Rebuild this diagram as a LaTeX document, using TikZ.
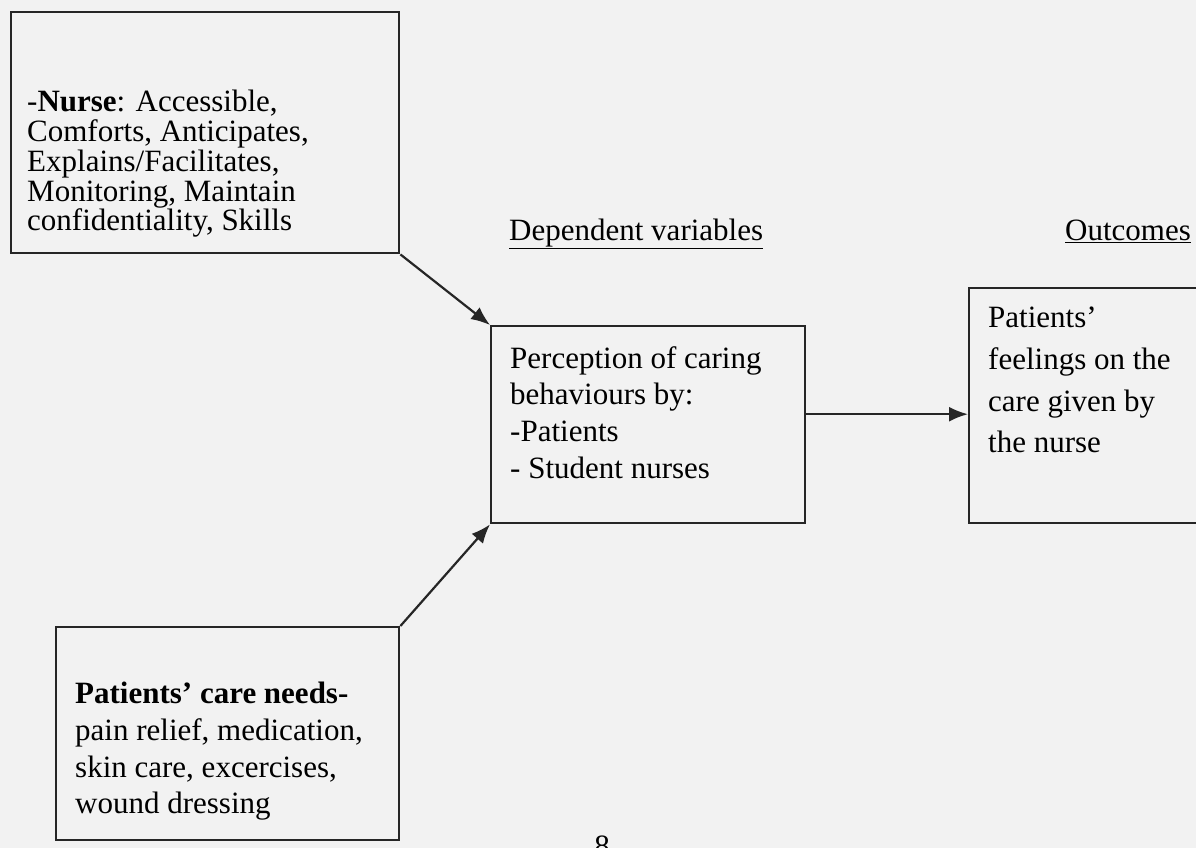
\documentclass[tikz,border=0pt]{standalone}
\usepackage{fontspec}
\setmainfont{Liberation Serif}
\usetikzlibrary{arrows.meta}
\tikzset{
  boxst/.style={draw=black!85, line width=2.4pt, inner sep=0pt, anchor=north west, rectangle},
  txt/.style={inner sep=0pt, anchor=north west, align=left, text=black},
  arr/.style={draw=black!85, line width=2.2pt, -{Latex[length=19pt,width=15pt]}},
  lbl/.style={inner sep=0pt, anchor=base west, text=black}
}
\begin{document}
\begin{tikzpicture}[x=1pt,y=-1pt]
\useasboundingbox[fill=black!5] (0,0) rectangle (1196,848);
% boxes
\node[boxst, minimum width=388pt, minimum height=241pt] (nurse) at (10,11) {};
\node[boxst, minimum width=314pt, minimum height=197pt] (main) at (490,325) {};
\node[boxst, minimum width=250pt, minimum height=235pt] (outc) at (968,287) {};
\node[boxst, minimum width=343pt, minimum height=213pt] (needs) at (55,626) {};
% texts
\node[txt, font=\fontsize{31}{29.8}\selectfont] (nursetxt) at (27,90)
  {-\textbf{Nurse}: Accessible,\\Comforts, Anticipates,\\Explains/Facilitates,\\Monitoring, Maintain\\confidentiality, Skills};
\node[txt, font=\fontsize{31}{36.7}\selectfont] (maintxt) at (510,346)
  {Perception of caring\\behaviours by:\\-Patients\\- Student nurses};
\node[txt, font=\fontsize{31}{41.7}\selectfont] (outctxt) at (988,307)
  {Patients’\\feelings on the\\care given by\\the nurse};
\node[txt, font=\fontsize{31}{36.7}\selectfont] (needstxt) at (75,682)
  {\textbf{Patients’ care needs-}\\pain relief, medication,\\skin care, excercises,\\wound dressing};
% headings
\node[lbl, font=\fontsize{31}{36}\selectfont] (dep) at (509,240) {\underline{Dependent variables}};
\node[lbl, font=\fontsize{31}{36}\selectfont] (outh) at (1065,240) {\underline{Outcomes}};
\node[inner sep=0pt, anchor=base, font=\fontsize{31}{36}\selectfont, text=black] (page) at (602,856) {8};
% connectors
\draw[arr] (nurse.south east) -- (main.north west);
\draw[arr] (needs.north east) -- (main.south west);
\draw[arr] ([yshift=10.5pt]main.east) -- ([yshift=10.5pt]main.east -| outc.west);
\end{tikzpicture}
\end{document}
